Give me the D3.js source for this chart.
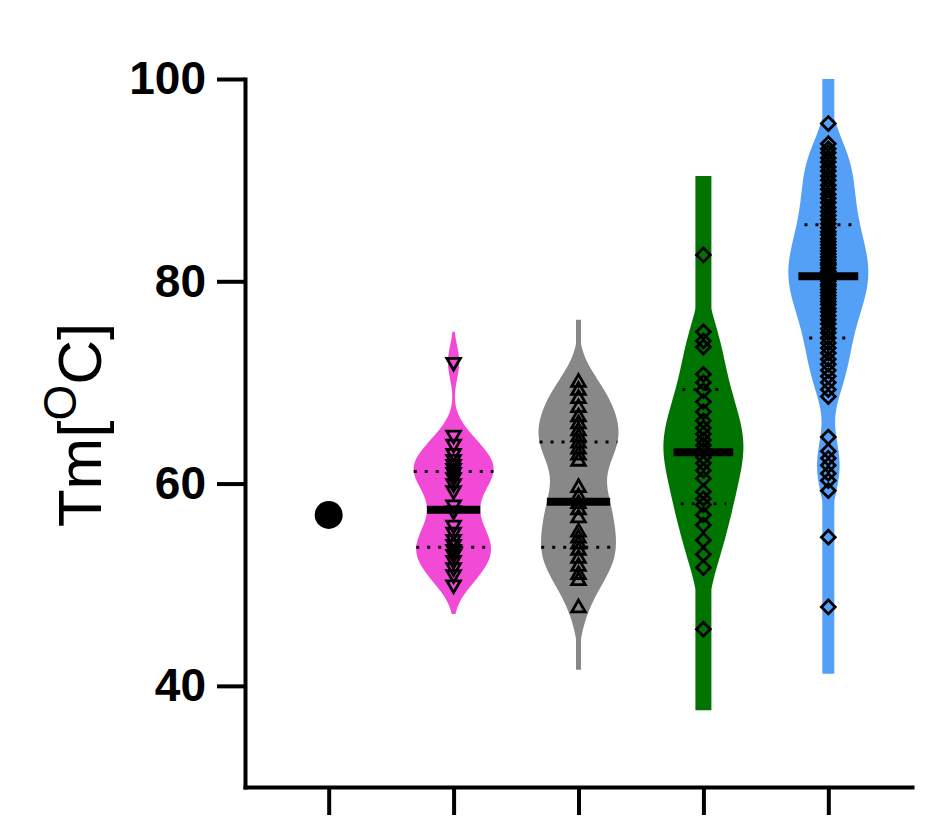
<!DOCTYPE html>
<html>
<head>
<meta charset="utf-8">
<title>Tm violin plot</title>
<style>
  body { margin: 0; background: #fff; }
  svg { display: block; }
  .axis path, .axis line { stroke: #000; stroke-width: 4px; }
  .axis path { stroke-linecap: square; }
  .axis text {
    font-family: "Liberation Sans", Arial, sans-serif;
    font-weight: bold;
    font-size: 46px;
    fill: #000;
  }
  .ylabel {
    font-family: "Liberation Sans", Arial, sans-serif;
    font-size: 62px;
    fill: #000;
  }
</style>
</head>
<body>
<script src="https://cdnjs.cloudflare.com/ajax/libs/d3/7.8.5/d3.min.js"></script>
<script>
// categories (no labels are printed under the ticks)
const groups = ["g1", "g2", "g3", "g4", "g5"];

// Tm values per group
const tmG1 = [56.9];
const tmG2 = [72.0, 64.8, 63.9, 63.0, 62.4, 61.9, 61.5, 61.1, 60.6, 60.0, 59.3,
              57.9, 57.3, 55.9, 55.2, 54.5, 54.0, 53.5, 53.0, 52.4, 51.7, 51.0, 50.0];
const tmG3 = [70.0, 69.2, 68.4, 67.5, 66.6, 65.9, 65.2, 64.6, 64.0, 63.4, 62.8,
              62.2, 59.6, 58.7, 58.0, 57.4, 56.6, 55.2, 54.6, 54.0, 53.4, 52.6,
              51.8, 51.0, 50.4, 47.7];
const tmG4 = [82.6, 75.0, 74.1, 73.5, 70.8, 70.0, 69.2, 68.1, 67.1, 66.2, 65.5,
              64.9, 64.3, 63.8, 63.3, 62.6, 62.0, 61.3, 60.5, 59.2, 58.5, 57.9,
              56.9, 55.9, 54.4, 53.0, 51.7, 45.6];
const tmG5 = [95.6, 93.6, 93.1, 92.7, 92.2, 91.8, 91.3, 90.9, 90.4, 90.0, 89.5,
              89.1, 88.6, 88.2, 87.8, 87.3, 86.9, 86.5, 86.1, 85.7, 85.3, 84.9,
              84.6, 84.2, 83.9, 83.6, 83.3, 83.0, 82.7, 82.4, 82.1, 81.8, 81.6,
              81.3, 81.0, 80.8, 80.5, 80.3, 80.0, 79.7, 79.5, 79.2, 78.9, 78.6,
              78.3, 78.0, 77.7, 77.3, 77.0, 76.6, 76.2, 75.8, 75.3, 74.9, 74.4,
              73.9, 73.4, 72.9, 72.3, 71.8, 71.2, 70.6, 70.0, 69.3, 68.6,
              64.6, 63.2, 62.5, 61.8, 61.0, 60.3, 59.3, 54.7, 47.8];

// summary lines and violin extents as drawn in the picture
const medians        = [null, 57.4, 58.2, 63.1, 80.5];
const upperQuartiles = [null, 61.2, 64.1, 69.3, 85.6];
const lowerQuartiles = [null, 53.7, 53.7, 58.0, 74.4];
const violinTop      = [null, 75.0, 76.2, 90.4, 100.0];
const violinBottom   = [null, 47.1, 41.6, 37.6, 41.2];

const yTicks = [40, 60, 80, 100];

const series = [tmG1, tmG2, tmG3, tmG4, tmG5];
const colors = ["#000000", "#f24ad7", "#888888", "#007400", "#55a0f7"];
const shapes = ["circle", "triangleDown", "triangleUp", "diamond", "diamond"];
const stemHalf = [0, 1, 2.5, 8, 6];        // thinnest half width of each violin
const bandwidths = [0, 1.7, 2.3, 2.9, 2.3]; // kernel smoothing per violin
const lineScale = [0, 1, 1, 0.75, 0.75];    // median / quartile length vs violin width

const width = 944, height = 836;
const maxHalf = 40;

const svg = d3.select("body").append("svg")
    .attr("width", width)
    .attr("height", height);

const x = d3.scalePoint().domain(groups).range([245, 912]).padding(0.67);
const y = d3.scaleLinear().domain([30, 100]).range([787, 79]);

// gaussian kernel density
function kde(values, h) {
    const k = 1 / (h * Math.sqrt(2 * Math.PI));
    return v => d3.sum(values, d => k * Math.exp(-0.5 * ((v - d) / h) ** 2)) / values.length;
}

const area = d3.area()
    .y(d => y(d.v))
    .x0(d => d.cx - d.w)
    .x1(d => d.cx + d.w)
    .curve(d3.curveBasis);

const plot = svg.append("g");

groups.forEach((g, i) => {
    const vals = series[i];
    const cx = x(g);

    if (vals.length > 1) {
        const dens = kde(vals, bandwidths[i]);
        const grid = d3.range(violinBottom[i], violinTop[i] + 0.001, 0.1);
        const dmax = d3.max(grid, dens);
        const half = v => Math.max(stemHalf[i], maxHalf * dens(v) / dmax);
        const pts = grid.map(v => ({v, cx, w: half(v)}));

        plot.append("path")
            .datum(pts)
            .attr("d", area)
            .attr("fill", colors[i]);

        // quartiles, dotted
        [upperQuartiles[i], lowerQuartiles[i]].forEach(q => {
            const w = half(q) * lineScale[i];
            plot.append("line")
                .attr("x1", cx - w).attr("x2", cx + w)
                .attr("y1", y(q)).attr("y2", y(q))
                .attr("stroke", "#000")
                .attr("stroke-width", 3)
                .attr("stroke-dasharray", "3,8");
        });

        // points, stacked in one column
        let sym, rot, size;
        if (shapes[i] === "diamond") { sym = d3.symbolSquare; rot = 45; size = 95; }
        else { sym = d3.symbolTriangle; rot = shapes[i] === "triangleDown" ? 180 : 0; size = 80; }
        const symbol = d3.symbol().type(sym).size(size);

        plot.append("g").selectAll("path")
            .data(vals)
            .join("path")
            .attr("transform", d => `translate(${cx},${y(d)}) rotate(${rot})`)
            .attr("d", symbol)
            .attr("fill", "none")
            .attr("stroke", "#000")
            .attr("stroke-width", 2.8);

        // median
        const mw = half(medians[i]) * lineScale[i];
        plot.append("line")
            .attr("x1", cx - mw).attr("x2", cx + mw)
            .attr("y1", y(medians[i])).attr("y2", y(medians[i]))
            .attr("stroke", "#000")
            .attr("stroke-width", 8);
    } else {
        plot.append("circle")
            .attr("cx", cx)
            .attr("cy", y(vals[0]))
            .attr("r", 14)
            .attr("fill", colors[i]);
    }
});

// axes
svg.append("g")
    .attr("class", "axis")
    .attr("transform", `translate(245,0)`)
    .call(d3.axisLeft(y).tickValues(yTicks).tickSize(28).tickSizeOuter(0).tickPadding(11));

svg.append("g")
    .attr("class", "axis")
    .attr("transform", `translate(0,${y(30)})`)
    .call(d3.axisBottom(x).tickSize(28).tickSizeOuter(0).tickFormat(""));

svg.selectAll(".axis .domain").attr("fill", "none");

// y label Tm[°C] with raised O
const label = svg.append("text")
    .attr("class", "ylabel")
    .attr("transform", `translate(101,${(318 + 532) / 2}) rotate(-90)`)
    .attr("text-anchor", "middle");
label.append("tspan").text("Tm[");
label.append("tspan").attr("font-size", 46).attr("dy", -25).text("O");
label.append("tspan").attr("dy", 25).text("C]");
</script>
</body>
</html>
